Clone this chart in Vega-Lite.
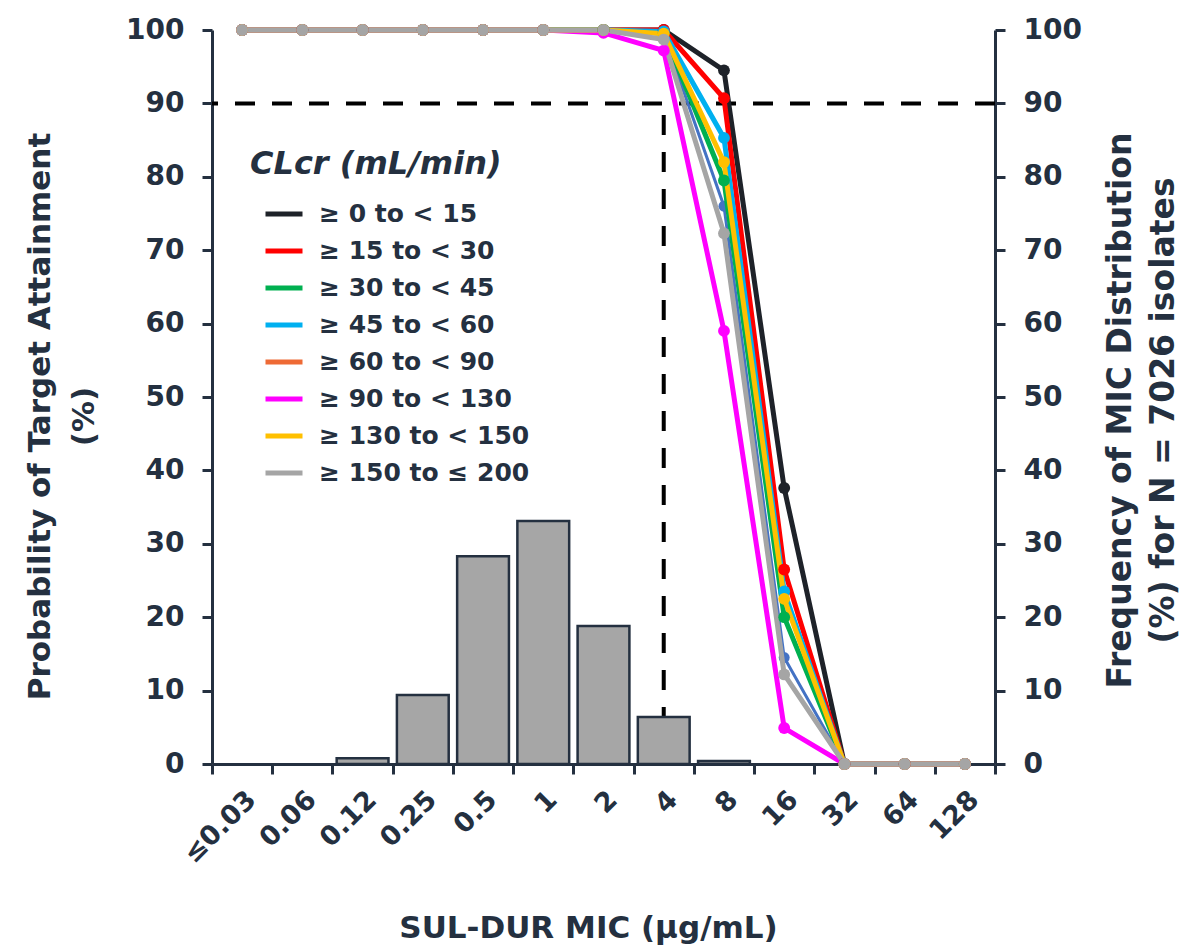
{
  "$schema": "https://vega.github.io/schema/vega-lite/v6.json",
  "width": 783,
  "height": 734,
  "autosize": "none",
  "padding": {"left": 212, "top": 30, "right": 186, "bottom": 185},
  "background": "white",
  "config": {
    "view": {"stroke": null},
    "font": "DejaVu Sans",
    "axis": {
      "grid": false,
      "domainColor": "#243040",
      "domainWidth": 3,
      "tickColor": "#243040",
      "tickWidth": 3,
      "tickSize": 10,
      "labelColor": "#243040",
      "labelFont": "DejaVu Sans",
      "labelFontWeight": "bold",
      "labelFontSize": 28,
      "titleColor": "#243040",
      "titleFont": "DejaVu Sans",
      "titleFontWeight": "bold",
      "titleFontSize": 30
    },
    "axisX": {
      "title": "SUL-DUR MIC (μg/mL)",
      "tickBand": "extent",
      "labelAngle": 315,
      "labelAlign": "right",
      "labelBaseline": "top",
      "labelPadding": 12,
      "labelFontSize": 27,
      "titleFontSize": 31,
      "titleX": 376,
      "titleY": 149,
      "titleAlign": "center",
      "titleBaseline": "top"
    }
  },
  "datasets": {
    "freq": [
      {"MIC": "0.12", "Freq": 0.8},
      {"MIC": "0.25", "Freq": 9.4},
      {"MIC": "0.5", "Freq": 28.3},
      {"MIC": "1", "Freq": 33.1},
      {"MIC": "2", "Freq": 18.8},
      {"MIC": "4", "Freq": 6.4},
      {"MIC": "8", "Freq": 0.4}
    ],
    "pta": [
      {"CLcr": "≥ 0 to < 15", "MIC": "≤0.03", "PTA": 100},
      {"CLcr": "≥ 0 to < 15", "MIC": "0.06", "PTA": 100},
      {"CLcr": "≥ 0 to < 15", "MIC": "0.12", "PTA": 100},
      {"CLcr": "≥ 0 to < 15", "MIC": "0.25", "PTA": 100},
      {"CLcr": "≥ 0 to < 15", "MIC": "0.5", "PTA": 100},
      {"CLcr": "≥ 0 to < 15", "MIC": "1", "PTA": 100},
      {"CLcr": "≥ 0 to < 15", "MIC": "2", "PTA": 100},
      {"CLcr": "≥ 0 to < 15", "MIC": "4", "PTA": 100},
      {"CLcr": "≥ 0 to < 15", "MIC": "8", "PTA": 94.5},
      {"CLcr": "≥ 0 to < 15", "MIC": "16", "PTA": 37.6},
      {"CLcr": "≥ 0 to < 15", "MIC": "32", "PTA": 0},
      {"CLcr": "≥ 0 to < 15", "MIC": "64", "PTA": 0},
      {"CLcr": "≥ 0 to < 15", "MIC": "128", "PTA": 0},

      {"CLcr": "≥ 15 to < 30", "MIC": "≤0.03", "PTA": 100},
      {"CLcr": "≥ 15 to < 30", "MIC": "0.06", "PTA": 100},
      {"CLcr": "≥ 15 to < 30", "MIC": "0.12", "PTA": 100},
      {"CLcr": "≥ 15 to < 30", "MIC": "0.25", "PTA": 100},
      {"CLcr": "≥ 15 to < 30", "MIC": "0.5", "PTA": 100},
      {"CLcr": "≥ 15 to < 30", "MIC": "1", "PTA": 100},
      {"CLcr": "≥ 15 to < 30", "MIC": "2", "PTA": 100},
      {"CLcr": "≥ 15 to < 30", "MIC": "4", "PTA": 100},
      {"CLcr": "≥ 15 to < 30", "MIC": "8", "PTA": 90.7},
      {"CLcr": "≥ 15 to < 30", "MIC": "16", "PTA": 26.5},
      {"CLcr": "≥ 15 to < 30", "MIC": "32", "PTA": 0},
      {"CLcr": "≥ 15 to < 30", "MIC": "64", "PTA": 0},
      {"CLcr": "≥ 15 to < 30", "MIC": "128", "PTA": 0},

      {"CLcr": "≥ 30 to < 45", "MIC": "≤0.03", "PTA": 100},
      {"CLcr": "≥ 30 to < 45", "MIC": "0.06", "PTA": 100},
      {"CLcr": "≥ 30 to < 45", "MIC": "0.12", "PTA": 100},
      {"CLcr": "≥ 30 to < 45", "MIC": "0.25", "PTA": 100},
      {"CLcr": "≥ 30 to < 45", "MIC": "0.5", "PTA": 100},
      {"CLcr": "≥ 30 to < 45", "MIC": "1", "PTA": 100},
      {"CLcr": "≥ 30 to < 45", "MIC": "2", "PTA": 100},
      {"CLcr": "≥ 30 to < 45", "MIC": "4", "PTA": 99.6},
      {"CLcr": "≥ 30 to < 45", "MIC": "8", "PTA": 79.5},
      {"CLcr": "≥ 30 to < 45", "MIC": "16", "PTA": 20},
      {"CLcr": "≥ 30 to < 45", "MIC": "32", "PTA": 0},
      {"CLcr": "≥ 30 to < 45", "MIC": "64", "PTA": 0},
      {"CLcr": "≥ 30 to < 45", "MIC": "128", "PTA": 0},

      {"CLcr": "≥ 45 to < 60", "MIC": "≤0.03", "PTA": 100},
      {"CLcr": "≥ 45 to < 60", "MIC": "0.06", "PTA": 100},
      {"CLcr": "≥ 45 to < 60", "MIC": "0.12", "PTA": 100},
      {"CLcr": "≥ 45 to < 60", "MIC": "0.25", "PTA": 100},
      {"CLcr": "≥ 45 to < 60", "MIC": "0.5", "PTA": 100},
      {"CLcr": "≥ 45 to < 60", "MIC": "1", "PTA": 100},
      {"CLcr": "≥ 45 to < 60", "MIC": "2", "PTA": 100},
      {"CLcr": "≥ 45 to < 60", "MIC": "4", "PTA": 99.8},
      {"CLcr": "≥ 45 to < 60", "MIC": "8", "PTA": 85.3},
      {"CLcr": "≥ 45 to < 60", "MIC": "16", "PTA": 23.5},
      {"CLcr": "≥ 45 to < 60", "MIC": "32", "PTA": 0},
      {"CLcr": "≥ 45 to < 60", "MIC": "64", "PTA": 0},
      {"CLcr": "≥ 45 to < 60", "MIC": "128", "PTA": 0},

      {"CLcr": "≥ 60 to < 90", "MIC": "≤0.03", "PTA": 100},
      {"CLcr": "≥ 60 to < 90", "MIC": "0.06", "PTA": 100},
      {"CLcr": "≥ 60 to < 90", "MIC": "0.12", "PTA": 100},
      {"CLcr": "≥ 60 to < 90", "MIC": "0.25", "PTA": 100},
      {"CLcr": "≥ 60 to < 90", "MIC": "0.5", "PTA": 100},
      {"CLcr": "≥ 60 to < 90", "MIC": "1", "PTA": 100},
      {"CLcr": "≥ 60 to < 90", "MIC": "2", "PTA": 100},
      {"CLcr": "≥ 60 to < 90", "MIC": "4", "PTA": 99.4},
      {"CLcr": "≥ 60 to < 90", "MIC": "8", "PTA": 76},
      {"CLcr": "≥ 60 to < 90", "MIC": "16", "PTA": 14.5},
      {"CLcr": "≥ 60 to < 90", "MIC": "32", "PTA": 0},
      {"CLcr": "≥ 60 to < 90", "MIC": "64", "PTA": 0},
      {"CLcr": "≥ 60 to < 90", "MIC": "128", "PTA": 0},

      {"CLcr": "≥ 90 to < 130", "MIC": "≤0.03", "PTA": 100},
      {"CLcr": "≥ 90 to < 130", "MIC": "0.06", "PTA": 100},
      {"CLcr": "≥ 90 to < 130", "MIC": "0.12", "PTA": 100},
      {"CLcr": "≥ 90 to < 130", "MIC": "0.25", "PTA": 100},
      {"CLcr": "≥ 90 to < 130", "MIC": "0.5", "PTA": 100},
      {"CLcr": "≥ 90 to < 130", "MIC": "1", "PTA": 100},
      {"CLcr": "≥ 90 to < 130", "MIC": "2", "PTA": 99.6},
      {"CLcr": "≥ 90 to < 130", "MIC": "4", "PTA": 97.2},
      {"CLcr": "≥ 90 to < 130", "MIC": "8", "PTA": 59},
      {"CLcr": "≥ 90 to < 130", "MIC": "16", "PTA": 4.9},
      {"CLcr": "≥ 90 to < 130", "MIC": "32", "PTA": 0},
      {"CLcr": "≥ 90 to < 130", "MIC": "64", "PTA": 0},
      {"CLcr": "≥ 90 to < 130", "MIC": "128", "PTA": 0},

      {"CLcr": "≥ 130 to < 150", "MIC": "≤0.03", "PTA": 100},
      {"CLcr": "≥ 130 to < 150", "MIC": "0.06", "PTA": 100},
      {"CLcr": "≥ 130 to < 150", "MIC": "0.12", "PTA": 100},
      {"CLcr": "≥ 130 to < 150", "MIC": "0.25", "PTA": 100},
      {"CLcr": "≥ 130 to < 150", "MIC": "0.5", "PTA": 100},
      {"CLcr": "≥ 130 to < 150", "MIC": "1", "PTA": 100},
      {"CLcr": "≥ 130 to < 150", "MIC": "2", "PTA": 100},
      {"CLcr": "≥ 130 to < 150", "MIC": "4", "PTA": 99.5},
      {"CLcr": "≥ 130 to < 150", "MIC": "8", "PTA": 82},
      {"CLcr": "≥ 130 to < 150", "MIC": "16", "PTA": 22.5},
      {"CLcr": "≥ 130 to < 150", "MIC": "32", "PTA": 0},
      {"CLcr": "≥ 130 to < 150", "MIC": "64", "PTA": 0},
      {"CLcr": "≥ 130 to < 150", "MIC": "128", "PTA": 0},

      {"CLcr": "≥ 150 to ≤ 200", "MIC": "≤0.03", "PTA": 100},
      {"CLcr": "≥ 150 to ≤ 200", "MIC": "0.06", "PTA": 100},
      {"CLcr": "≥ 150 to ≤ 200", "MIC": "0.12", "PTA": 100},
      {"CLcr": "≥ 150 to ≤ 200", "MIC": "0.25", "PTA": 100},
      {"CLcr": "≥ 150 to ≤ 200", "MIC": "0.5", "PTA": 100},
      {"CLcr": "≥ 150 to ≤ 200", "MIC": "1", "PTA": 100},
      {"CLcr": "≥ 150 to ≤ 200", "MIC": "2", "PTA": 100},
      {"CLcr": "≥ 150 to ≤ 200", "MIC": "4", "PTA": 98.7},
      {"CLcr": "≥ 150 to ≤ 200", "MIC": "8", "PTA": 72.3},
      {"CLcr": "≥ 150 to ≤ 200", "MIC": "16", "PTA": 12.2},
      {"CLcr": "≥ 150 to ≤ 200", "MIC": "32", "PTA": 0},
      {"CLcr": "≥ 150 to ≤ 200", "MIC": "64", "PTA": 0},
      {"CLcr": "≥ 150 to ≤ 200", "MIC": "128", "PTA": 0}
    ]
  },
  "layer": [
    {
      "data": {"values": [{}]},
      "mark": {"type": "rule", "color": "#000000", "strokeWidth": 4, "strokeDash": [20, 17]},
      "encoding": {
        "y": {"datum": 90, "type": "quantitative", "scale": {"domain": [0, 100]}, "axis": null}
      }
    },
    {
      "data": {"values": [{}]},
      "mark": {"type": "rule", "color": "#000000", "strokeWidth": 4, "strokeDash": [20, 17]},
      "encoding": {
        "x": {"datum": "4", "type": "nominal", "scale": {"type": "band", "domain": ["≤0.03","0.06","0.12","0.25","0.5","1","2","4","8","16","32","64","128"], "paddingInner": 0, "paddingOuter": 0}, "title": "SUL-DUR MIC (μg/mL)"},
        "y": {"datum": 0, "type": "quantitative", "axis": null},
        "y2": {"datum": 90}
      }
    },
    {
      "data": {"name": "freq"},
      "mark": {"type": "bar", "fill": "#A6A6A6", "stroke": "#243040", "strokeWidth": 2.5, "width": {"band": 0.86}},
      "encoding": {
        "x": {"field": "MIC", "type": "nominal", "scale": {"type": "band", "domain": ["≤0.03","0.06","0.12","0.25","0.5","1","2","4","8","16","32","64","128"], "paddingInner": 0, "paddingOuter": 0}, "title": "SUL-DUR MIC (μg/mL)"},
        "y": {
          "field": "Freq", "type": "quantitative",
          "scale": {"domain": [0, 100]},
          "axis": {
            "orient": "right",
            "values": [0, 10, 20, 30, 40, 50, 60, 70, 80, 90, 100],
            "title": ["Frequency of MIC Distribution", "(%) for N = 7026 isolates"],
            "titleFontSize": 33,
            "titleAngle": 270,
            "titleAlign": "center",
            "titleBaseline": "middle",
            "titleLineHeight": 43,
            "titleX": 125,
            "titleY": 380,
            "labelPadding": 18
          }
        }
      }
    },
    {
      "data": {"name": "pta"},
      "transform": [{"filter": "datum.CLcr === '≥ 60 to < 90'"}],
      "mark": {"type": "line", "color": "#4472C4", "strokeWidth": 3, "point": {"filled": true, "size": 120, "color": "#4472C4"}},
      "encoding": {
        "x": {"field": "MIC", "type": "nominal", "scale": {"type": "band", "domain": ["≤0.03","0.06","0.12","0.25","0.5","1","2","4","8","16","32","64","128"], "paddingInner": 0, "paddingOuter": 0}, "title": "SUL-DUR MIC (μg/mL)"},
        "y": {"field": "PTA", "type": "quantitative", "axis": null}
      }
    },
    {
      "data": {"name": "pta"},
      "transform": [{"filter": "datum.CLcr !== '≥ 60 to < 90'"}],
      "mark": {"type": "line", "strokeWidth": 5, "point": {"filled": true, "size": 140}},
      "encoding": {
        "x": {"field": "MIC", "type": "nominal", "scale": {"type": "band", "domain": ["≤0.03","0.06","0.12","0.25","0.5","1","2","4","8","16","32","64","128"], "paddingInner": 0, "paddingOuter": 0}, "title": "SUL-DUR MIC (μg/mL)"},
        "y": {
          "field": "PTA", "type": "quantitative",
          "scale": {"domain": [0, 100]},
          "axis": {
            "orient": "left",
            "values": [0, 10, 20, 30, 40, 50, 60, 70, 80, 90, 100],
            "title": ["Probability of Target Attainment", "(%)"],
            "titleFontSize": 31,
            "titleAngle": 270,
            "titleAlign": "center",
            "titleBaseline": "middle",
            "titleLineHeight": 44,
            "titleX": -172,
            "titleY": 386,
            "labelPadding": 18
          }
        },
        "color": {
          "field": "CLcr", "type": "nominal",
          "scale": {
            "domain": ["≥ 0 to < 15", "≥ 15 to < 30", "≥ 30 to < 45", "≥ 45 to < 60", "≥ 60 to < 90", "≥ 90 to < 130", "≥ 130 to < 150", "≥ 150 to ≤ 200"],
            "range": ["#1E2229", "#FF0000", "#00B050", "#00B0F0", "#EE6A35", "#FF00FF", "#FFC000", "#A5A5A5"]
          },
          "legend": {
            "title": "CLcr (mL/min)",
            "orient": "none",
            "legendX": 38,
            "legendY": 119,
            "padding": 0,
            "titleFont": "DejaVu Sans",
            "titleFontSize": 32,
            "titleFontWeight": "bold",
            "titleFontStyle": "italic",
            "titleColor": "#243040",
            "titlePadding": 12,
            "titleLimit": 500,
            "labelFont": "DejaVu Sans",
            "labelFontSize": 25,
            "labelFontWeight": "bold",
            "labelColor": "#243040",
            "labelLimit": 500,
            "labelOffset": 14,
            "symbolType": "stroke",
            "symbolStrokeWidth": 5,
            "symbolSize": 1369,
            "symbolOffset": 13,
            "rowPadding": 3
          }
        }
      }
    }
  ],
  "resolve": {"axis": {"y": "independent"}}
}
